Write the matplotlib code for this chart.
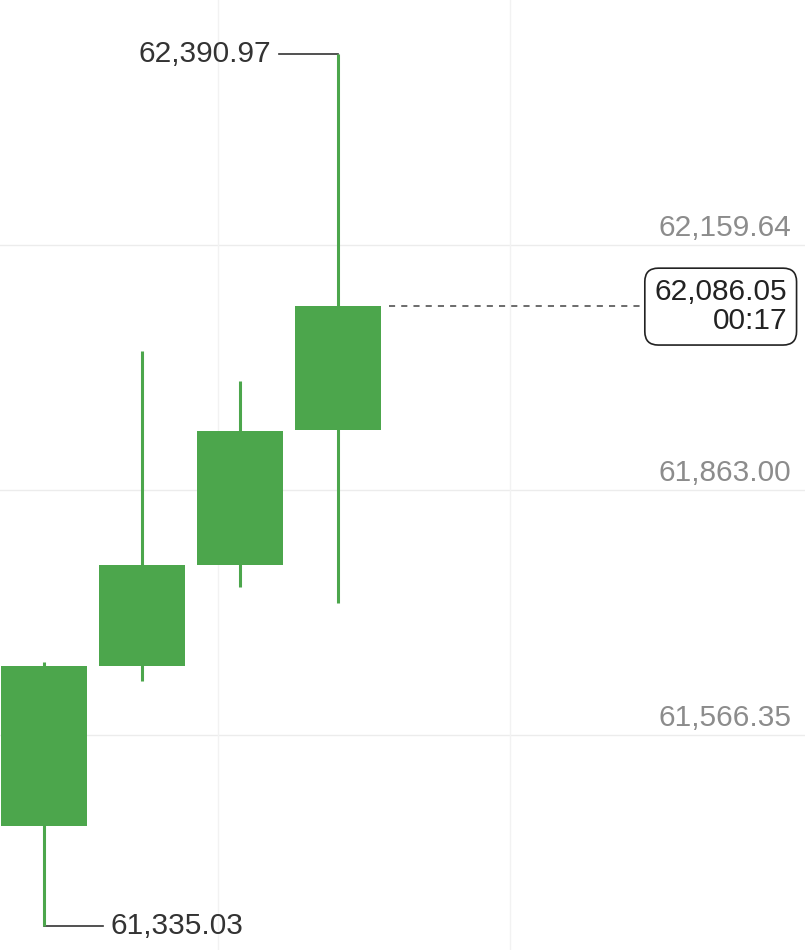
import matplotlib.pyplot as plt

plt.rcParams["font.family"] = ["Liberation Sans", "DejaVu Sans"]

# candle data (oldest -> newest)
opens = [61456.2, 61649.9, 61772.2, 61935.6]
closes = [61649.9, 61772.2, 61934.4, 62086.05]
highs = [61654.7, 62031.3, 61995.0, 62390.97]
lows = [61335.03, 61631.7, 61745.6, 61726.2]

grid_levels = [61566.35, 61863.00, 62159.64]
last_price = "62,086.05"
countdown = "00:17"

green = "#4ca64c"
px = 1 / 98  # one pixel in x data units

fig = plt.figure(figsize=(8.05, 9.5), dpi=100)
ax = fig.add_axes([0, 0, 1, 1])
ax.set_xlim(-44 * px, 761 * px)
ax.set_ylim(61306.0, 62456.3)
ax.axis("off")

# grid
for lv in grid_levels:
    ax.axhline(lv, color="#ececec", lw=1, zorder=0)
    ax.text(0.983, lv + 4, f"{lv:,.2f}", transform=ax.get_yaxis_transform(),
            ha="right", va="bottom", fontsize=21.5, color="#8c8c8c")
for gx in [174 * px, 466 * px]:
    ax.axvline(gx, color="#f2f2f2", lw=1, zorder=0)

# candles
w = 86 * px
for i, (o, c, h, l) in enumerate(zip(opens, closes, highs, lows)):
    ax.vlines(i, l, h, color=green, lw=2.2, zorder=2)
    ax.bar(i, c - o, bottom=o, width=w, color=green, zorder=3)

# high / low markers
hi = len(highs) - 1
ax.plot([hi - 59 * px, hi], [highs[hi], highs[hi]], color="#333333", lw=1.2, zorder=1)
ax.text(hi - 67 * px, highs[hi], f"{highs[hi]:,.2f}", ha="right", va="center",
        fontsize=21.5, color="#333333")
lo = 0
ax.plot([lo, lo + 59 * px], [lows[lo], lows[lo]], color="#333333", lw=1.2, zorder=1)
ax.text(lo + 66 * px, lows[lo], f"{lows[lo]:,.2f}", ha="left", va="center",
        fontsize=21.5, color="#333333")

# last price line and label
ax.plot([hi + 51 * px, hi + 304 * px], [closes[-1], closes[-1]],
        color="#444444", lw=1.1, ls=(0, (4, 4)), zorder=1)
ax.text(hi + 449 * px, closes[-1] - 1, f"{last_price}\n{countdown}", ha="right",
        va="center", multialignment="right", fontsize=21.5, color="#222222",
        linespacing=1.08,
        bbox=dict(boxstyle="round,pad=0.32,rounding_size=0.45", fc="white",
                  ec="#222222", lw=1.2))

fig.savefig("out.png", dpi=100, facecolor="white")
